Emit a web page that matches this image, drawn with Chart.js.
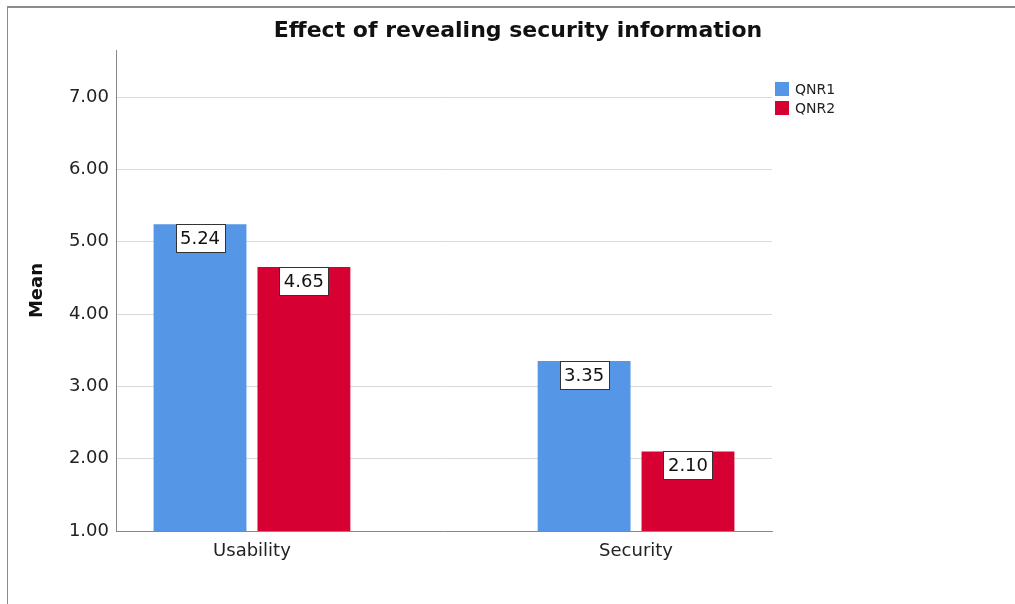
<!DOCTYPE html>
<html>
<head>
<meta charset="utf-8">
<script src="https://cdn.jsdelivr.net/npm/chart.js@4.4.1/dist/chart.umd.min.js"></script>
<style>
    body { margin: 0; background: #fff; }
    #wrap { position: relative; width: 1015px; height: 604px; }
    #frame { position: absolute; left: 7px; top: 6px; right: 0; bottom: 0; border-top: 2px solid #8c8c8c; border-left: 1px solid #8c8c8c; }
</style>
</head>
<body>
<div id="wrap">
    <canvas id="chart" width="1015" height="604"></canvas>
    <div id="frame"></div>
</div>
<script>
const categories = ['Usability', 'Security'];
const qnr1 = [5.24, 3.35];
const qnr2 = [4.65, 2.10];
const seriesNames = ['QNR1', 'QNR2'];
const yTicks = [1, 2, 3, 4, 5, 6, 7];
const chartTitle = 'Effect of revealing security information';

const FONT = '"DejaVu Sans", sans-serif';
const colors = ['#5596e6', '#d60032'];

// white boxes with the value, hanging under the top of each bar
const valueBoxes = {
    id: 'valueBoxes',
    afterDatasetsDraw(chart) {
        const ctx = chart.ctx;
        ctx.save();
        ctx.font = '18px ' + FONT;
        chart.data.datasets.forEach((ds, i) => {
            chart.getDatasetMeta(i).data.forEach((bar, j) => {
                const text = ds.data[j].y.toFixed(2);
                const w = Math.round(ctx.measureText(text).width + 9);
                const h = 28;
                const x = Math.round(bar.x - w / 2);
                const y = Math.round(bar.y);
                ctx.fillStyle = '#fff';
                ctx.fillRect(x, y, w, h);
                ctx.strokeStyle = '#333';
                ctx.lineWidth = 1;
                ctx.strokeRect(x + 0.5, y + 0.5, w, h);
                ctx.fillStyle = '#111';
                ctx.textAlign = 'center';
                ctx.textBaseline = 'middle';
                ctx.fillText(text, bar.x, y + h / 2 + 1);
            });
        });
        ctx.restore();
    }
};

// title and legend, placed like the original
const extras = {
    id: 'extras',
    afterDraw(chart) {
        const ctx = chart.ctx;
        ctx.save();
        ctx.fillStyle = '#111';
        ctx.font = 'bold 22px ' + FONT;
        ctx.textAlign = 'center';
        ctx.textBaseline = 'middle';
        ctx.fillText(chartTitle, 518, 31);

        ctx.font = '14px ' + FONT;
        ctx.textAlign = 'left';
        chart.data.datasets.forEach((ds, i) => {
            const top = 82 + i * 19;
            ctx.fillStyle = ds.backgroundColor;
            ctx.fillRect(775, top, 14, 14);
            ctx.fillStyle = '#222';
            ctx.fillText(ds.label, 795, top + 8);
        });
        ctx.restore();
    }
};

const ctx = document.getElementById('chart').getContext('2d');
new Chart(ctx, {
    type: 'bar',
    data: {
        datasets: [qnr1, qnr2].map((vals, i) => ({
            label: seriesNames[i],
            data: vals.map((v, j) => ({ x: j, y: v })),
            backgroundColor: colors[i],
            borderWidth: 0,
            categoryPercentage: 0.541,
            barPercentage: 0.894
        }))
    },
    options: {
        responsive: false,
        animation: false,
        layout: { padding: { left: 0, right: 243, top: 50, bottom: 0 } },
        plugins: {
            legend: { display: false },
            tooltip: { enabled: false },
            title: { display: false }
        },
        scales: {
            x: {
                type: 'linear',
                offset: false,
                min: -0.354,
                max: 1.354,
                grid: { display: false },
                border: { color: '#888' },
                afterBuildTicks: (scale) => {
                    scale.ticks = categories.map((c, i) => ({ value: i }));
                },
                afterFit: (scale) => { scale.height = 73; },
                ticks: {
                    callback: (v) => categories[v],
                    color: '#222',
                    padding: 2,
                    maxRotation: 0,
                    font: { family: FONT, size: 18 }
                }
            },
            y: {
                min: 1,
                max: 7.65,
                afterBuildTicks: (scale) => {
                    scale.ticks = yTicks.map(v => ({ value: v }));
                },
                afterFit: (scale) => { scale.width = 116; },
                grid: { color: '#d9d9d9', drawTicks: false },
                border: { color: '#888' },
                ticks: {
                    callback: (v) => v.toFixed(2),
                    color: '#222',
                    padding: 7,
                    font: { family: FONT, size: 18 }
                },
                title: {
                    display: true,
                    text: 'Mean',
                    color: '#111',
                    font: { family: FONT, size: 18, weight: 'bold' },
                    padding: { top: 27 }
                }
            }
        }
    },
    plugins: [valueBoxes, extras]
});
</script>
</body>
</html>
